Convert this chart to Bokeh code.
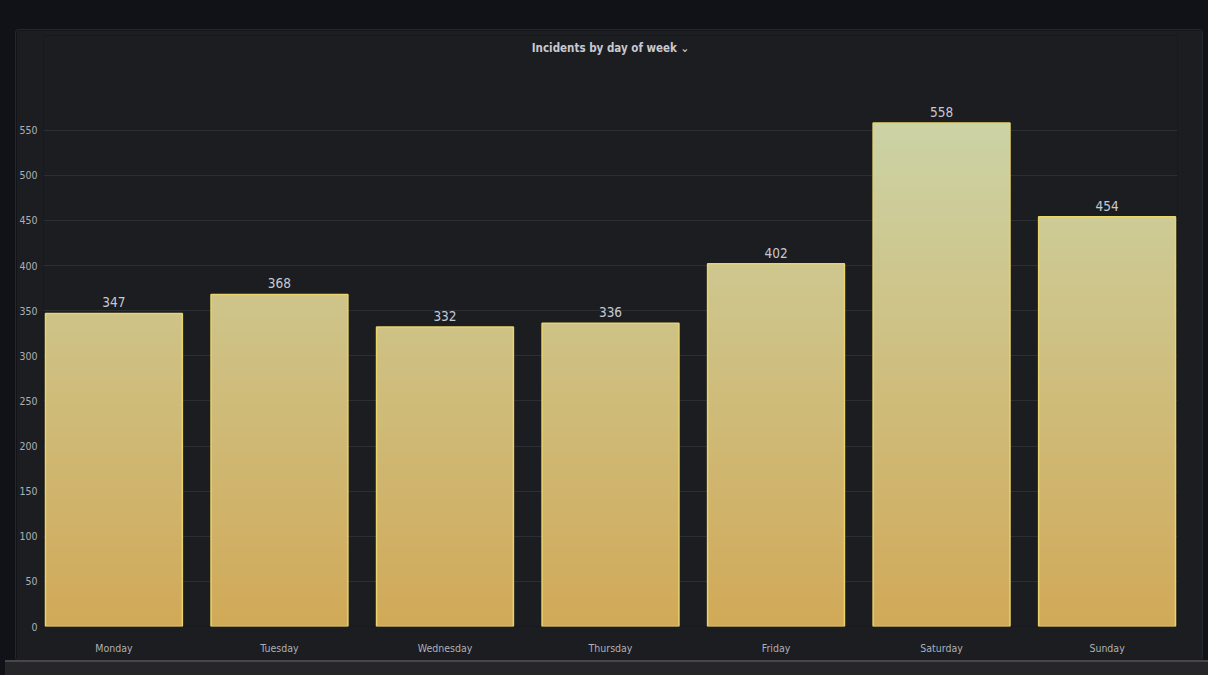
import numpy as np
from bokeh.plotting import figure
from bokeh.models import ColumnDataSource, FixedTicker, Range1d, Div, Label
from bokeh.layouts import column
from bokeh.embed import file_html
from bokeh.resources import INLINE
from bokeh.core.properties import value

# ---- data ----
days = ["Monday", "Tuesday", "Wednesday", "Thursday", "Friday", "Saturday", "Sunday"]
counts = [347, 368, 332, 336, 402, 558, 454]
y_ticks = [0, 50, 100, 150, 200, 250, 300, 350, 400, 450, 500, 550]
title_text = "Incidents by day of week \u2304"

# ---- style ----
FONT = "DejaVu Sans Condensed"
PAGE_BG = "#111217"
PANEL_BG = "#1b1d21"
GRID = "#2b2e34"
TEXT = "#c8c9d1"
TICK_TEXT = "#aeb0b7"
BAR_LINE = "#e9d46c"
BOTTOM_RGB = np.array([209, 169, 88])
TOP_RGB = np.array([204, 211, 165])
GRAD_TOP = 560.0
BAR_W = 0.827
STEP = 4.0
Y_END = 655.0        # frame reaches up to the title row
TITLE_Y = 641.0

idx = list(range(len(days)))

p = figure(width=1186, height=630, output_backend="svg", toolbar_location=None,
           x_range=Range1d(-0.4255, len(days) - 1 + 0.4255), y_range=Range1d(0, Y_END),
           min_border_left=27, min_border_right=25, min_border_bottom=34, min_border_top=5,
           background_fill_color=PANEL_BG, border_fill_color=PANEL_BG)
p.margin = (30, 0, 0, 16)
p.outline_line_color = None
p.styles = {"border-radius": "3px", "box-shadow": "0 0 0 1px #24272d"}

# gradient bars built from slices of each bar's value
left, right, bottom, top, colors = [], [], [], [], []
for i, v in zip(idx, counts):
    edges = list(np.arange(0, v, STEP)) + [v]
    for b, t in zip(edges[:-1], edges[1:]):
        mid = (b + t) / 2.0
        f = min(mid / GRAD_TOP, 1.0)
        rgb = BOTTOM_RGB + (TOP_RGB - BOTTOM_RGB) * f
        colors.append("#%02x%02x%02x" % tuple(int(round(c)) for c in rgb))
        left.append(i - BAR_W / 2)
        right.append(i + BAR_W / 2)
        bottom.append(b)
        top.append(min(t + 1.0, v))
slices = ColumnDataSource(dict(left=left, right=right, bottom=bottom, top=top, color=colors))
p.quad(left="left", right="right", bottom="bottom", top="top", fill_color="color",
       line_color=None, source=slices)

src = ColumnDataSource(dict(x=idx, top=counts, label=[str(c) for c in counts]))
p.vbar(x="x", top="top", width=BAR_W, fill_color=None, line_color=BAR_LINE,
       line_width=1.5, source=src)
p.text(x="x", y="top", text="label", source=src, text_align="center",
       text_baseline="bottom", y_offset=-6, text_color=TEXT,
       text_font=value(FONT), text_font_size="13.5px")

# title inside the (tall) frame, centred on the plot
title = Label(x=(len(days) - 1) / 2.0, y=TITLE_Y, text=title_text, text_align="center",
              text_baseline="middle", text_font=FONT, text_font_size="11.5px",
              text_font_style="bold", text_color=TEXT)
p.add_layout(title)

# axes
p.yaxis.ticker = FixedTicker(ticks=y_ticks)
p.xaxis.ticker = FixedTicker(ticks=idx)
p.xaxis.major_label_overrides = {i: d for i, d in zip(idx, days)}
for ax in (p.xaxis[0], p.yaxis[0]):
    ax.axis_line_color = None
    ax.major_tick_line_color = None
    ax.minor_tick_line_color = None
    ax.major_tick_out = 0
    ax.major_tick_in = 0
    ax.minor_tick_out = 0
    ax.minor_tick_in = 0
    ax.major_label_text_font = FONT
    ax.major_label_text_font_size = "10.5px"
    ax.major_label_text_color = TICK_TEXT
p.yaxis.major_label_standoff = 6
p.xaxis.major_label_standoff = 15

p.xgrid.grid_line_color = None
p.ygrid.grid_line_color = GRID
p.ygrid.grid_line_width = 1

strip = Div(text="", width=1203, height=15, margin=(0, 0, 0, 5),
            styles={"background-color": "#262628", "border-top": "2px solid #47474a"})
layout = column(p, strip, spacing=0)

html = file_html(layout, INLINE)
html = html.replace("</head>", "<style>body{background-color:%s;}</style></head>" % PAGE_BG, 1)
open("out.html", "w").write(html)
